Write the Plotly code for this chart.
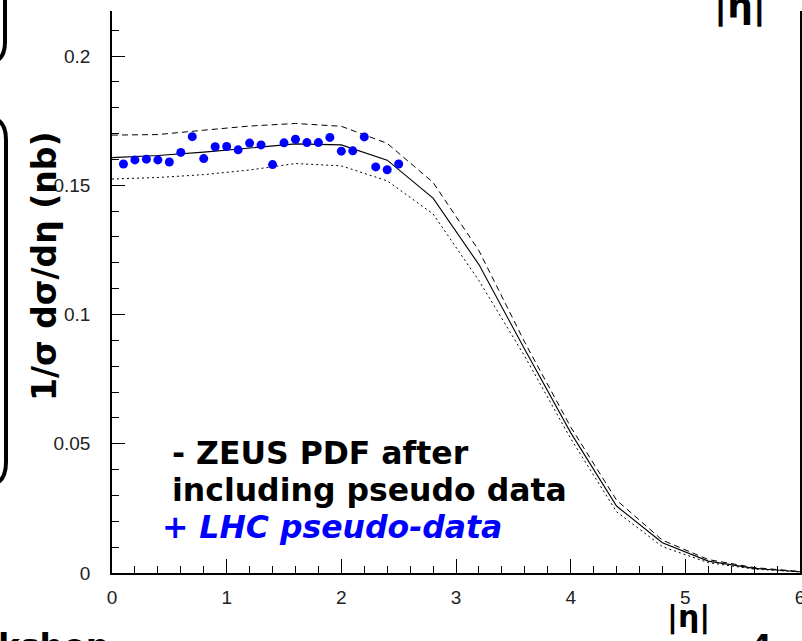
import plotly.graph_objects as go

# ---- data ----
eta_pts = [0.1, 0.2, 0.3, 0.4, 0.5, 0.6, 0.7, 0.8, 0.9, 1.0, 1.1, 1.2, 1.3,
           1.4, 1.5, 1.6, 1.7, 1.8, 1.9, 2.0, 2.1, 2.2, 2.3, 2.4, 2.5]
lhc_pseudo = [0.1582, 0.1598, 0.1601, 0.1598, 0.1590, 0.1627, 0.1688, 0.1603,
              0.1649, 0.1650, 0.1637, 0.1663, 0.1656, 0.1580, 0.1664, 0.1678,
              0.1665, 0.1665, 0.1685, 0.1632, 0.1633, 0.1687, 0.1571, 0.1560,
              0.1582]

eta_curve = [0.0, 0.4, 0.8, 1.2, 1.6, 2.0, 2.4, 2.8, 3.2, 3.6, 4.0, 4.4, 4.8,
             5.2, 5.6, 6.0]
zeus_central = [0.1607, 0.1615, 0.1628, 0.1645, 0.1660, 0.1656, 0.1597, 0.1450,
                0.1193, 0.0865, 0.0543, 0.0259, 0.0117, 0.0046, 0.0018, 0.0005]
zeus_upper = [0.1694, 0.1696, 0.1713, 0.1729, 0.1739, 0.1728, 0.1662, 0.1511,
              0.1247, 0.0892, 0.0565, 0.0282, 0.0127, 0.0052, 0.0021, 0.0006]
zeus_lower = [0.1524, 0.1530, 0.1541, 0.1559, 0.1584, 0.1575, 0.1517, 0.1389,
              0.1131, 0.0838, 0.0520, 0.0237, 0.0102, 0.0040, 0.0015, 0.0004]

x_tickvals = [0, 1, 2, 3, 4, 5, 6]
y_tickvals = [0, 0.05, 0.1, 0.15, 0.2]
y_ticktext = ["0", "0.05", "0.1", "0.15", "0.2"]

# ---- layout geometry (pixels) ----
W, H = 802, 641
L, R, T, B = 112, 2, 11, 68
PW, PH = W - L - R, H - T - B


def px(xp):
    return (xp - L) / PW


def py(yp):
    return (H - B - yp) / PH


fig = go.Figure()

fig.add_trace(go.Scatter(x=eta_curve, y=zeus_upper, mode="lines",
                         line=dict(color="black", width=1, dash="6px,4px"),
                         showlegend=False, hoverinfo="skip"))
fig.add_trace(go.Scatter(x=eta_curve, y=zeus_lower, mode="lines",
                         line=dict(color="black", width=1, dash="2px,3px"),
                         showlegend=False, hoverinfo="skip"))
fig.add_trace(go.Scatter(x=eta_curve, y=zeus_central, mode="lines",
                         line=dict(color="black", width=1.1),
                         showlegend=False, hoverinfo="skip"))
fig.add_trace(go.Scatter(x=eta_pts, y=lhc_pseudo, mode="markers",
                         marker=dict(color="#0000ff", size=9, line=dict(width=0)),
                         showlegend=False))

tickfont = dict(family="Liberation Sans", size=19, color="#222222")

fig.update_xaxes(range=[0, 6], tickvals=x_tickvals, ticks="inside", ticklen=14,
                 tickwidth=1, tickcolor="black", showline=True, linecolor="black",
                 linewidth=1.5, showgrid=False, zeroline=False, tickfont=tickfont,
                 ticklabelstandoff=6, automargin=False, ticklabeloverflow="allow",
                 minor=dict(dtick=0.2, ticks="inside", ticklen=7, tickwidth=1,
                            tickcolor="black", showgrid=False))
fig.update_yaxes(range=[0, PH / 2585.0], tickvals=y_tickvals, ticktext=y_ticktext,
                 ticks="inside", ticklen=13, tickwidth=1, tickcolor="black",
                 showline=True, linecolor="black", linewidth=1.5, mirror=True,
                 showgrid=False, zeroline=False, tickfont=tickfont,
                 ticklabelstandoff=16, automargin=False, ticklabeloverflow="allow",
                 minor=dict(dtick=0.01, ticks="inside", ticklen=7, tickwidth=1,
                            tickcolor="black", showgrid=False))

bold = dict(family="DejaVu Sans", size=31.5, color="black", weight="bold")

annotations = [
    dict(text="- ZEUS PDF after", x=px(170), y=py(453), xanchor="left",
         yanchor="middle", font=bold),
    dict(text="including pseudo data", x=px(170), y=py(490), xanchor="left",
         yanchor="middle", font=bold),
    dict(text="<i>+ LHC pseudo-data</i>", x=px(160), y=py(527), xanchor="left",
         yanchor="middle", font=dict(family="DejaVu Sans", size=31.5,
                                     color="#0000ff", weight="bold")),
    dict(text="1/σ dσ/dη (nb)", x=px(44), y=py(267), xanchor="center",
         yanchor="middle", textangle=-90,
         font=dict(family="DejaVu Sans", size=33, color="black", weight="bold")),
    dict(text="|η|", x=px(688), y=py(617), xanchor="center", yanchor="middle",
         font=dict(family="DejaVu Sans", size=30, color="black", weight="bold")),
    dict(text="|η|", x=px(740), y=py(6), xanchor="center", yanchor="middle",
         font=dict(family="DejaVu Sans", size=36, color="black", weight="bold")),
    dict(text="kshop", x=px(-4), y=py(625), xanchor="left", yanchor="top",
         font=dict(family="DejaVu Sans", size=33, color="black", weight="bold")),
    dict(text="4", x=px(761), y=py(626), xanchor="center", yanchor="top",
         font=dict(family="DejaVu Sans", size=30, color="black", weight="bold")),
]
for a in annotations:
    a.update(xref="paper", yref="paper", showarrow=False)

shapes = [
    dict(type="path", xref="paper", yref="paper",
         path=f"M {px(5)} {py(-2)} L {px(5)} {py(42)} Q {px(5)} {py(60)} {px(-8)} {py(62)}",
         line=dict(color="black", width=4)),
    dict(type="path", xref="paper", yref="paper",
         path=(f"M {px(-8)} {py(118)} Q {px(6)} {py(120)} {px(6)} {py(140)} "
               f"L {px(6)} {py(462)} Q {px(6)} {py(482)} {px(-8)} {py(485)}"),
         line=dict(color="black", width=4)),
]

fig.update_layout(width=W, height=H, margin=dict(l=L, r=R, t=T, b=B, autoexpand=False),
                  paper_bgcolor="white", plot_bgcolor="white",
                  annotations=annotations, shapes=shapes, showlegend=False)

fig.write_html("out.html", config={"displayModeBar": False},
               post_script="document.body.style.margin='0';"
                           "document.body.style.overflow='hidden';")
